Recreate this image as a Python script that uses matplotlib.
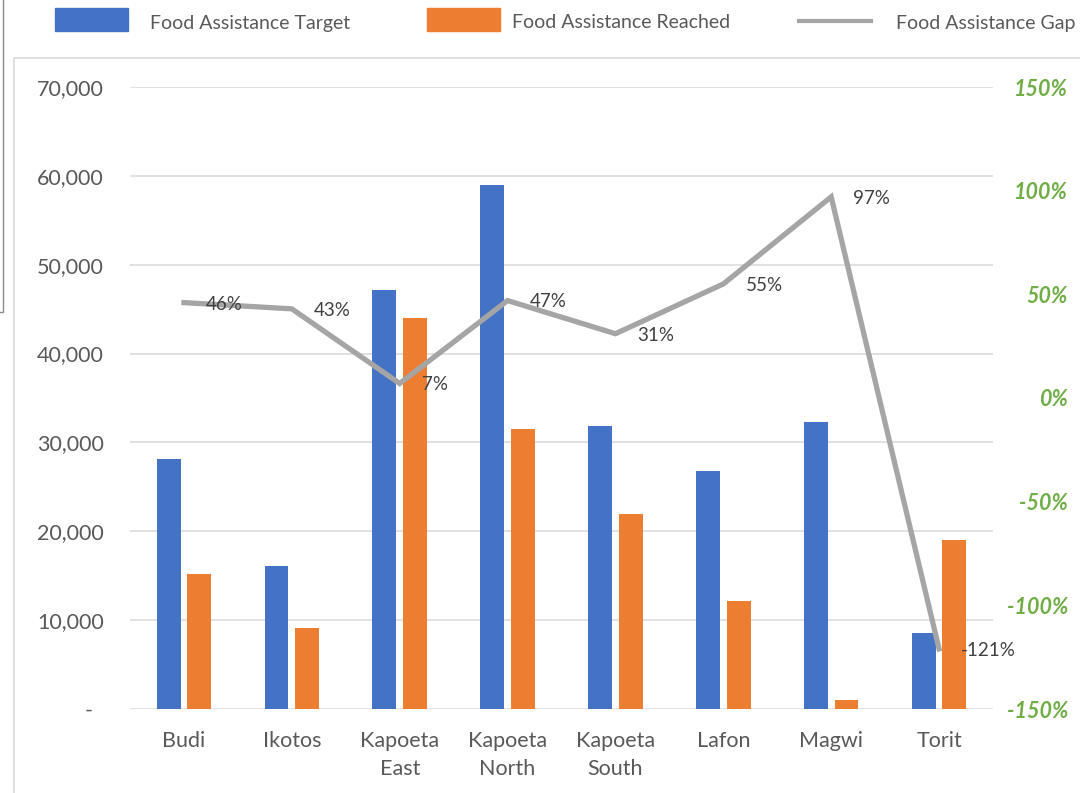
import numpy as np
import matplotlib.pyplot as plt
from matplotlib.lines import Line2D
from matplotlib.patches import Rectangle
from matplotlib.ticker import FuncFormatter

plt.rcParams["font.family"] = ["Lato", "DejaVu Sans"]

# data
districts = ["Budi", "Ikotos", "Kapoeta\nEast", "Kapoeta\nNorth", "Kapoeta\nSouth",
             "Lafon", "Magwi", "Torit"]
target = [28100, 16100, 47200, 59000, 31800, 26800, 32300, 8600]
reached = [15200, 9100, 44000, 31500, 21900, 12200, 1000, 19000]
gap = [0.46, 0.43, 0.07, 0.47, 0.31, 0.55, 0.97, -1.21]
left_ticks = [0, 10000, 20000, 30000, 40000, 50000, 60000, 70000]
right_ticks = [-1.5, -1.0, -0.5, 0.0, 0.5, 1.0, 1.5]

W, H = 1080, 793
fig = plt.figure(figsize=(W / 100, H / 100), dpi=100)


def fx(px):
    return px / W


def fy(py):
    return 1 - py / H


ax = fig.add_axes([fx(130), fy(709), fx(993) - fx(130), fy(87) - fy(709)])

blue = "#4472C4"
orange = "#ED7D31"
grey = "#A5A5A5"
green = "#70AD47"
txt = "#595959"

x = np.arange(len(districts))
bw = 0.222
ax.bar(x - 0.142, target, bw, color=blue, zorder=2)
ax.bar(x + 0.142, reached, bw, color=orange, zorder=2)

ax.set_xlim(-0.5, len(districts) - 0.5)
ax.set_ylim(0, 70000)
ax.set_yticks(left_ticks)
ax.yaxis.set_major_formatter(FuncFormatter(lambda v, p: "-  " if v == 0 else f"{v:,.0f}"))
ax.grid(axis="y", color="#D9D9D9", lw=1.1)
ax.set_axisbelow(True)
for s in ax.spines.values():
    s.set_visible(False)
ax.set_xticks(x)
ax.set_xticklabels(districts, linespacing=1.55)
ax.tick_params(axis="both", length=0, colors=txt, labelsize=15.5)
ax.tick_params(axis="y", pad=19)
ax.tick_params(axis="x", pad=15.5)

ax2 = ax.twinx()
ax2.plot(x, gap, color=grey, lw=3.8, solid_joinstyle="miter", zorder=3)
for xi, g in zip(x, gap):
    ax2.annotate(f"{g:.0%}", (xi, g), xytext=(16, -1), textcoords="offset points",
                 ha="left", va="center", fontsize=13.5, color="#404040")
ax2.set_ylim(-1.5, 1.5)
ax2.set_yticks(right_ticks)
ax2.yaxis.set_major_formatter(FuncFormatter(lambda v, p: f"{v:.0%}"))
for s in ax2.spines.values():
    s.set_visible(False)
ax2.tick_params(axis="y", length=0, colors=green, labelsize=15.5, pad=54)
for lab in ax2.get_yticklabels():
    lab.set_ha("right")
    lab.set_fontweight("bold")
    lab.set_fontstyle("italic")

# legend across the top
fig.add_artist(Rectangle((fx(55), fy(31)), fx(73), 23 / H, color=blue, transform=fig.transFigure))
fig.text(fx(150), fy(23), "Food Assistance Target", color=txt, fontsize=14, va="center")
fig.add_artist(Rectangle((fx(427), fy(31)), fx(73), 23 / H, color=orange, transform=fig.transFigure))
fig.text(fx(512), fy(23), "Food Assistance Reached", color=txt, fontsize=14, va="center")
fig.add_artist(Line2D([fx(799), fx(871)], [fy(21), fy(21)], color=grey, lw=3, transform=fig.transFigure))
fig.text(fx(896), fy(23), "Food Assistance Gap", color=txt, fontsize=14, va="center")

# frame lines
fig.add_artist(Line2D([fx(14), fx(14), fx(W)], [0, fy(58), fy(58)], color="#D9D9D9", lw=1.2,
                      transform=fig.transFigure))
fig.add_artist(Line2D([fx(2.5), fx(2.5), 0], [1, fy(312), fy(312)], color="#8C8C8C", lw=1,
                      transform=fig.transFigure))

fig.savefig("out.png", dpi=100)
